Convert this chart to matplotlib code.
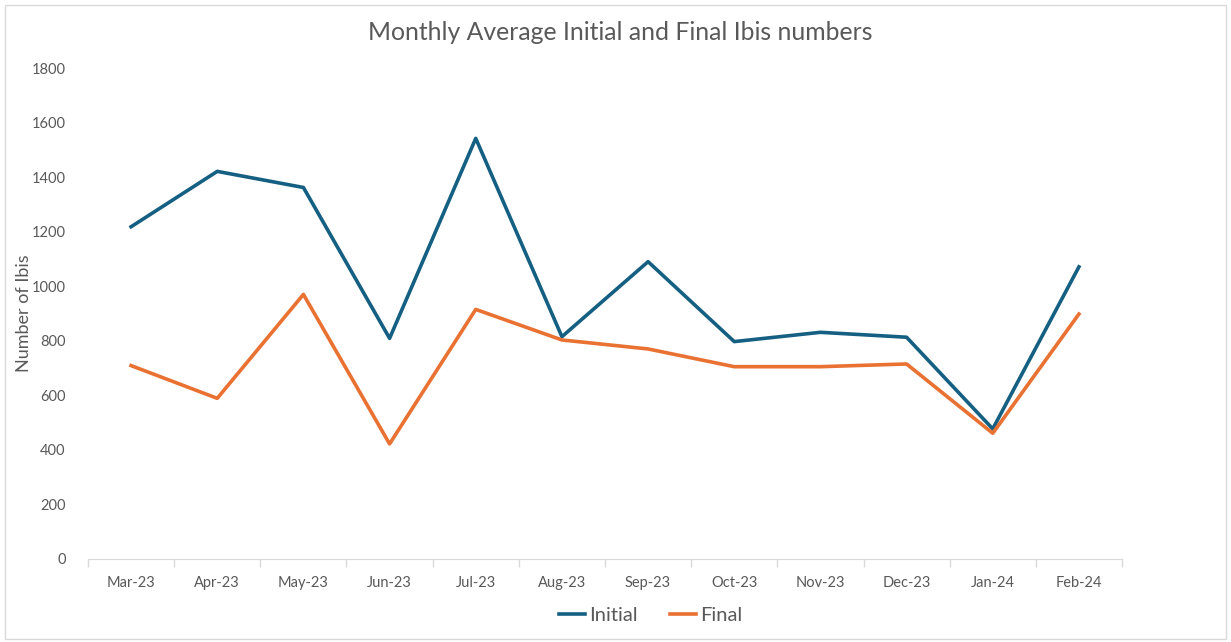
import matplotlib.pyplot as plt
import matplotlib.patches as mpatches
import numpy as np

plt.rcParams['font.family'] = ['Lato', 'DejaVu Sans']

months = ['Mar-23', 'Apr-23', 'May-23', 'Jun-23', 'Jul-23', 'Aug-23',
          'Sep-23', 'Oct-23', 'Nov-23', 'Dec-23', 'Jan-24', 'Feb-24']
initial = [1218, 1421, 1362, 809, 1542, 815, 1090, 797, 831, 813, 477, 1071]
final = [709, 589, 970, 422, 915, 803, 770, 705, 705, 715, 461, 898]

grey = '#595959'
fig = plt.figure(figsize=(12.31, 6.42), dpi=100)
ax = fig.add_axes([88/1231, 1-559/642, (1122-88)/1231, (559-68)/642])

# chart frame
fig.patches.append(mpatches.FancyBboxPatch((5/1231, 3/642), 1221/1231, 634/642,
                                           boxstyle='square,pad=0', transform=fig.transFigure,
                                           fill=False, edgecolor='#d9d9d9', linewidth=1))

x = np.arange(len(months))
ax.plot(x, initial, color='#156082', linewidth=2.6, label='Initial')
ax.plot(x, final, color='#E97132', linewidth=2.6, label='Final')

ax.set_xlim(-0.5, len(months)-0.5)
ax.set_ylim(0, 1800)
ax.set_yticks(range(0, 1801, 200))
ax.set_xticks(x)
ax.set_xticklabels(months)
ax.set_xticks(np.arange(-0.5, len(months), 1), minor=True)
ax.tick_params(axis='x', which='major', length=0, pad=12, labelsize=10.5, labelcolor=grey)
ax.tick_params(axis='x', which='minor', length=6, color='#d9d9d9', width=1)
ax.tick_params(axis='y', length=0, pad=16, labelsize=10.5, labelcolor=grey)

for s in ['top', 'right', 'left']:
    ax.spines[s].set_visible(False)
ax.spines['bottom'].set_color('#d9d9d9')

ax.set_ylabel('Number of Ibis', fontsize=13, color=grey)
ax.yaxis.set_label_coords(-56/1034, 0.5)
fig.text(620/1231, 1-33/642, 'Monthly Average Initial and Final Ibis numbers',
         ha='center', va='center', fontsize=17.8, color=grey)

ax.legend(loc='center', bbox_to_anchor=(651/1231, 1-615/642), bbox_transform=fig.transFigure,
          ncol=2, frameon=False, fontsize=14.5, labelcolor=grey, handlelength=1.3,
          handletextpad=0.2, columnspacing=1.6)

plt.savefig('out.png', dpi=100)
